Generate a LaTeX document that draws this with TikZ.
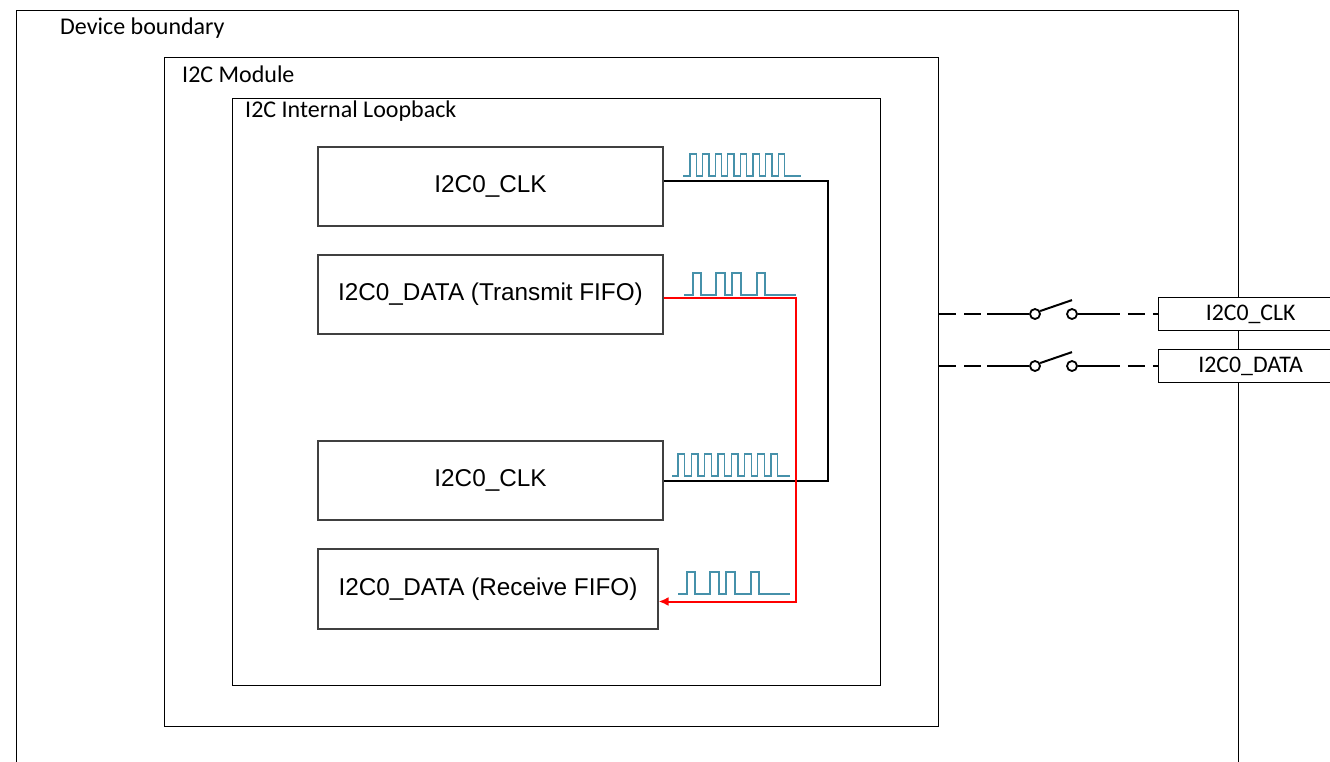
\documentclass[tikz,border=0pt]{standalone}
\usepackage{fontspec}
\setmainfont{Carlito}
\newfontfamily\arialfont{Liberation Sans}
\usetikzlibrary{arrows.meta,positioning,calc}
\definecolor{wavecol}{RGB}{70,145,170}

\begin{document}
\begin{tikzpicture}[
    x=1pt, y=-1pt,
    font=\fontsize{24}{28}\selectfont,
    region/.style={draw=black, line width=1.3pt, anchor=north west, inner sep=0pt},
    regionlabel/.style={anchor=base west, inner sep=0pt},
    fnbox/.style={draw=black!75, line width=1.1pt, minimum width=345pt, minimum height=79pt, inner sep=0pt, font=\arialfont\fontsize{24.3}{28}\selectfont},
    pinbox/.style={draw=black, fill=white, line width=1.2pt, anchor=west, minimum width=190pt, minimum height=33pt, inner sep=0pt, font=\fontsize{23.8}{28}\selectfont},
    contact/.style={circle, draw=black, fill=white, line width=1.8pt, minimum size=10pt, inner sep=0pt},
    wire/.style={line width=2pt, draw=black},
    datawire/.style={line width=2pt, draw=red, -{Latex[length=10pt, width=9pt]}},
    lead/.style={line width=2pt},
    padline/.style={line width=2pt, dash pattern=on 17pt off 8pt},
    wave/.style={line width=1.3pt, draw=wavecol, line join=miter}
]
    \useasboundingbox (0,0) rectangle (1330,761);

    % Boundaries
    \node[region, minimum width=1222pt, minimum height=800pt] (dev) at (16,10) {};
    \node[region, minimum width=774pt, minimum height=669pt] (mod) at (164,57) {};
    \node[region, minimum width=648pt, minimum height=587pt] (loop) at (232,98) {};
    \node[regionlabel] (devlbl) at (60,34) {Device boundary};
    \node[regionlabel] (modlbl) at (182,82) {I2C Module};
    \node[regionlabel] (looplbl) at (245,117) {I2C Internal Loopback};

    % Loopback endpoints
    \node[fnbox] (clktx) at (490.5,186.5) {I2C0\_CLK};
    \node[fnbox] (txd) at (490.5,294.5) {I2C0\_DATA (Transmit FIFO)};
    \node[fnbox] (clkrx) at (490.5,480.5) {I2C0\_CLK};
    \node[fnbox, minimum width=340pt, minimum height=80pt] (rxd) at (488,589) {I2C0\_DATA (Receive FIFO)};

    % Pins
    \node[pinbox] (pinclk) at (1158,314) {\hspace*{-6pt}I2C0\_CLK};
    \node[pinbox] (pindat) at (1158,366) {\hspace*{-6pt}I2C0\_DATA};

    % Switch contacts
    \node[contact] (swclka) at (1035,314) {};
    \node[contact] (swclkb) at (1072,314) {};
    \node[contact] (swdata) at (1035,366) {};
    \node[contact] (swdatb) at (1072,366) {};

    % Internal loopback wires
    \draw[wire] ([yshift=5.5pt]clktx.east) -- ++(164,0) |- (clkrx.east);
    \draw[datawire] ([yshift=-3.5pt]txd.east) -- ++(132,0) |- ([yshift=-12.5pt]rxd.east);

    % Waveforms
    \draw[wave] (683,176) -- ++(7,0)
        \foreach \k in {1,...,8}{ -- ++(0,-22) -- ++(6.3,0) -- ++(0,22) -- ++(6.3,0)} -- (801,176);
    \draw[wave] (672,476) -- ++(6,0)
        \foreach \k in {1,...,8}{ -- ++(0,-22) -- ++(6.65,0) -- ++(0,22) -- ++(6.65,0)} -- (790,476);
    \draw[wave] (684,295)
        \foreach \lo/\hi in {9/8,15/9,7/9,16/8}{ -- ++(\lo,0) -- ++(0,-22) -- ++(\hi,0) -- ++(0,22)} -- (796,295);
    \draw[wave] (678,594)
        \foreach \lo/\hi in {9/8,15/9,7/9,16/8}{ -- ++(\lo,0) -- ++(0,-22) -- ++(\hi,0) -- ++(0,22)} -- (790,594);

    % Pin switches
    \draw[padline] (mod.east |- swclka) -- ([xshift=-42pt]swclka.west);
    \draw[lead] ([xshift=-42pt]swclka.west) -- (swclka.west);
    \draw[lead] (swclka.30) -- ([yshift=8pt]swclkb.north);
    \draw[lead] (swclkb.east) -- ([xshift=42pt]swclkb.east);
    \draw[padline, dash phase=17pt] ([xshift=42pt]swclkb.east) -- (pinclk.west);

    \draw[padline] (mod.east |- swdata) -- ([xshift=-42pt]swdata.west);
    \draw[lead] ([xshift=-42pt]swdata.west) -- (swdata.west);
    \draw[lead] (swdata.30) -- ([yshift=8pt]swdatb.north);
    \draw[lead] (swdatb.east) -- ([xshift=42pt]swdatb.east);
    \draw[padline, dash phase=17pt] ([xshift=42pt]swdatb.east) -- (pindat.west);

\end{tikzpicture}
\end{document}
